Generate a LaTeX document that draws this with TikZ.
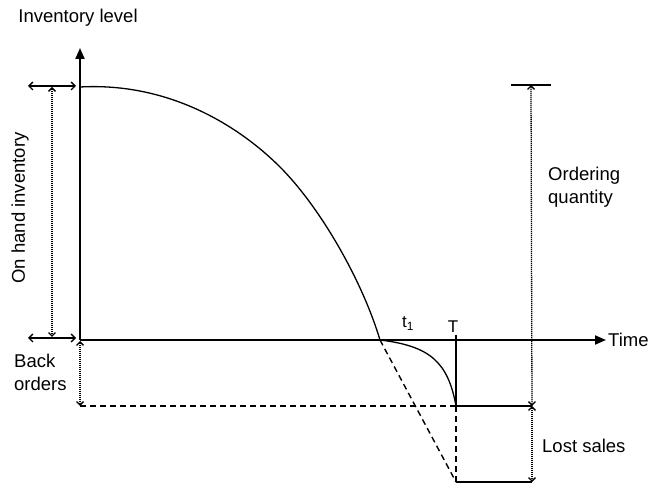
\documentclass[tikz,border=0pt]{standalone}
\usepackage{fontspec}
\setmainfont{Liberation Sans}
\usetikzlibrary{arrows.meta}
\begin{document}
\begin{tikzpicture}[x=1pt,y=-1pt,
  lbl/.style={inner sep=0pt,font=\fontsize{18.5}{23}\selectfont},
  small/.style={inner sep=0pt,font=\fontsize{17}{20}\selectfont},
  axis/.style={line width=2pt,-{Triangle[length=11pt,width=9pt]}},
  curve/.style={line width=1.3pt},
  dimline/.style={line width=1.3pt,dash pattern=on 1.2pt off 0.8pt,{Straight Barb[length=3.5pt,width=7pt]}-{Straight Barb[length=3.5pt,width=7pt]}},
  dbl/.style={line width=1.3pt,{Straight Barb[length=4pt,width=8pt]}-{Straight Barb[length=4pt,width=8pt]}},
  dsh/.style={line width=1.4pt,dash pattern=on 6pt off 4pt}]
\useasboundingbox (0,0) rectangle (659,486);
% key points
\coordinate (O) at (80,340);
\coordinate (Ytop) at (80,48);
\coordinate (Xend) at (606,340);
\coordinate (S) at (80,87);
\coordinate (M) at (280,167);
\coordinate (P) at (380,340);
\coordinate (Tend) at (456,406);
\coordinate (Ttop) at (456,335);
\coordinate (D) at (456,482);
\coordinate (R1) at (532,406);
\coordinate (R2) at (532,482);
\coordinate (Qtop) at (531,85);
\coordinate (BarL) at (511,85);
\coordinate (BarR) at (551,85);
\coordinate (L1a) at (28,86);
\coordinate (L1b) at (76,86);
\coordinate (L2a) at (28,338);
\coordinate (L2b) at (76,338);
\coordinate (V1) at (52,87);
\coordinate (V2) at (52,337);
\coordinate (B1) at (80,341);
\coordinate (B2) at (80,406);
% axes
\draw[axis] (O) -- (Ytop);
\draw[axis] (O) -- (Xend);
% main curve
\draw[curve] (S) .. controls (170,82) and (240,127) .. (M)
                 .. controls (320,207) and (362,280) .. (P);
\draw[curve] (P) .. controls (430,346) and (448,362) .. (Tend);
\draw[curve] (Ttop) -- (Tend) -- (R1);
\draw[curve] (D) -- (R2);
\draw[curve] (BarL) -- (BarR);
% dashed
\draw[dsh] (B2) -- (Tend);
\draw[dsh] (P) -- (D);
\draw[dsh] (Tend) -- (D);
% dimension lines
\draw[dbl] (L1a) -- (L1b);
\draw[dbl] (L2a) -- (L2b);
\draw[dimline] (V1) -- (V2);
\draw[dimline] (B1) -- (B2);
\draw[dimline] (Qtop) -- (R1);
\draw[dimline] (R1) -- (R2);
% labels
\node[lbl,anchor=base] (ylab) at (78,23) {Inventory level};
\node[lbl,anchor=base west] (xlab) at (608,347) {Time};
\node[lbl,rotate=90] (onhand) at (20,208) {On hand inventory};
\node[lbl,anchor=base west,align=left] (back) at (14,391) {Back\\orders};
\node[lbl,anchor=base west,align=left] (oq) at (548,204) {Ordering\\quantity};
\node[lbl,anchor=base west] (lost) at (542,452) {Lost sales};
\node[small,anchor=base] (Tlab) at (453,333) {T};
\node[small,anchor=base west] (t1lab) at (402,328) {t\textsubscript{1}};
\end{tikzpicture}
\end{document}
